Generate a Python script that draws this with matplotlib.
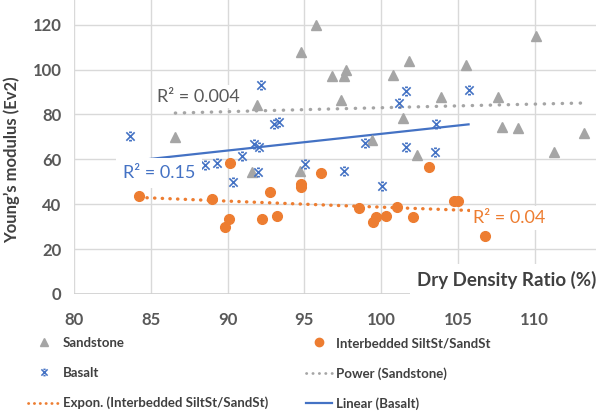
import numpy as np
import matplotlib
matplotlib.use("Agg")
import matplotlib.pyplot as plt
from matplotlib.lines import Line2D
from matplotlib.path import Path

plt.rcParams["font.family"] = ["Lato", "DejaVu Sans"]

# data
sand_x = [86.6, 91.9, 94.8, 95.75, 96.8, 97.6, 97.7, 97.4, 100.75, 101.8, 105.5, 110.1,
          103.9, 107.6, 101.4, 107.9, 108.9, 113.2, 111.25, 102.35, 99.4, 91.6, 94.7]
sand_y = [69.8, 84.2, 107.9, 120.0, 97.0, 97.2, 100.0, 86.4, 97.6, 104.0, 102.0, 114.9,
          87.8, 87.8, 78.5, 74.4, 74.1, 71.7, 63.2, 62.0, 68.7, 54.2, 55.0]

silt_x = [84.25, 88.96, 89.85, 90.1, 90.16, 92.24, 92.76, 93.2, 94.76, 94.76, 96.06,
          98.57, 99.5, 99.66, 100.3, 101.05, 102.1, 103.15, 104.74, 105.0, 106.8]
silt_y = [43.7, 42.2, 30.0, 33.3, 58.3, 33.45, 45.6, 34.8, 49.2, 47.7, 53.7,
          38.2, 32.3, 34.5, 34.8, 38.7, 34.2, 56.8, 41.5, 41.5, 25.9]

basalt_x = [83.65, 88.5, 89.3, 90.35, 90.96, 91.7, 92.05, 92.0, 92.15, 93.05, 93.35,
            95.04, 97.6, 98.97, 100.05, 101.2, 101.6, 101.65, 103.5, 103.6, 105.7]
basalt_y = [70.2, 57.5, 58.4, 49.9, 61.3, 67.0, 65.3, 54.3, 93.1, 75.9, 76.6,
            57.8, 55.0, 67.2, 47.9, 85.2, 90.6, 65.4, 63.4, 75.8, 90.7]

r2_labels = ["R² = 0.004", "R² = 0.15", "R² = 0.04"]
x_ticks = [80, 85, 90, 95, 100, 105, 110]
y_ticks = [0, 20, 40, 60, 80, 100, 120]

GRAY = "#A5A5A5"
ORANGE = "#ED7D31"
BLUE = "#4472C4"
TXT = "#595959"

# x marker with small caps, like the Excel one
bowtie = Path(
    [(-1, -1), (1, 1), (-1, 1), (1, -1), (-0.35, 1), (0.35, 1), (-0.35, -1), (0.35, -1)],
    [Path.MOVETO, Path.LINETO] * 4,
)

fig = plt.figure(figsize=(5.98, 4.18), dpi=100)
ax = fig.add_axes([74 / 598, 1 - 294 / 418, 522 / 598, 294 / 418])
ax.set_xlim(80, 114)
ax.set_ylim(0, 131)

ax.set_xticks(x_ticks)
ax.set_yticks(y_ticks)
ax.grid(True, color="#D9D9D9", lw=1.0)
ax.set_axisbelow(True)
for s in ax.spines.values():
    s.set_visible(False)
ax.axhline(0, color="#D0D0D0", lw=1.2, zorder=1)
ax.tick_params(length=0, labelsize=12, labelcolor=TXT, pad=9)
for lab in ax.get_xticklabels() + ax.get_yticklabels():
    lab.set_fontweight("bold")
ax.tick_params(axis="x", pad=13)

# scatter
ax.plot(sand_x, sand_y, ls="none", marker="^", ms=7.5, color=GRAY, zorder=3)
ax.plot(silt_x, silt_y, ls="none", marker="o", ms=7, color=ORANGE, zorder=3)
ax.plot(basalt_x, basalt_y, ls="none", marker=bowtie, ms=6, mec=BLUE, mew=1.2,
        mfc="none", zorder=3)

# trendlines fitted the Excel way
sx = np.array(sand_x); sy = np.array(sand_y)
b, la = np.polyfit(np.log(sx), np.log(sy), 1)
xs = np.linspace(sx.min(), sx.max(), 100)
ax.plot(xs, np.exp(la) * xs ** b, color=GRAY, lw=2.4, ls=(0, (0.1, 2.6)),
        dash_capstyle="round", zorder=2)

ox = np.array(silt_x); oy = np.array(silt_y)
b, la = np.polyfit(ox, np.log(oy), 1)
xs = np.linspace(ox.min(), ox.max(), 100)
ax.plot(xs, np.exp(la) * np.exp(b * xs), color=ORANGE, lw=2.4, ls=(0, (0.1, 2.2)),
        dash_capstyle="round", zorder=2)

bx = np.array(basalt_x); by = np.array(basalt_y)
m, c = np.polyfit(bx, by, 1)
xs = np.linspace(bx.min(), bx.max(), 100)
ax.plot(xs, m * xs + c, color=BLUE, lw=1.6, zorder=2)

box = dict(boxstyle="square,pad=0.2", fc="white", ec="none")
ax.text(85.4, 87.9, r2_labels[0], color=TXT, fontsize=13, va="center", bbox=box, zorder=5)
ax.text(83.2, 54.0, r2_labels[1], color=BLUE, fontsize=13, va="center", zorder=5,
        bbox=dict(boxstyle="square,pad=0.38", fc="white", ec="none"))
ax.text(106.0, 33.9, r2_labels[2], color=ORANGE, fontsize=13, va="center", bbox=box, zorder=5)

fig.text(0.997, 1 - 280 / 418, "Dry Density Ratio (%)", ha="right",
         va="center", fontsize=13.5, fontweight="bold", color="#404040",
         bbox=dict(boxstyle="square,pad=0.35", fc="white", ec="none"), zorder=6)
fig.text(12 / 598, 1 - 160 / 418, "Young’s modulus (Ev2)", rotation=90, ha="center",
         va="center", fontsize=12, fontweight="bold", color="#404040")

# legend, two columns
h_sand = Line2D([], [], ls="none", marker="^", ms=6, color=GRAY)
h_silt = Line2D([], [], ls="none", marker="o", ms=6, color=ORANGE)
h_bas = Line2D([], [], ls="none", marker=bowtie, ms=4.5, mec=BLUE, mew=1.1, mfc="none")
h_pow = Line2D([], [], color=GRAY, lw=2, ls=(0, (0.1, 2.2)), dash_capstyle="round")
h_exp = Line2D([], [], color=ORANGE, lw=2, ls=(0, (0.1, 2.0)), dash_capstyle="round")
h_lin = Line2D([], [], color=BLUE, lw=1.6)

kw = dict(frameon=False, labelspacing=1.35, handletextpad=0.25, borderpad=0,
          borderaxespad=0, labelcolor="#404040", prop={"weight": "bold", "size": 9.5})
leg1 = fig.legend([h_sand, h_bas, h_exp],
                  ["Sandstone", "Basalt", "Expon. (Interbedded SiltSt/SandSt)"],
                  loc="upper left", bbox_to_anchor=(28 / 598, 1 - 337 / 418),
                  handlelength=2.4, **kw)
leg2 = fig.legend([h_silt, h_pow, h_lin],
                  ["Interbedded SiltSt/SandSt", "Power (Sandstone)", "Linear (Basalt)"],
                  loc="upper left", bbox_to_anchor=(306 / 598, 1 - 337 / 418),
                  handlelength=2.0, **kw)

fig.savefig("out.png", dpi=100)
